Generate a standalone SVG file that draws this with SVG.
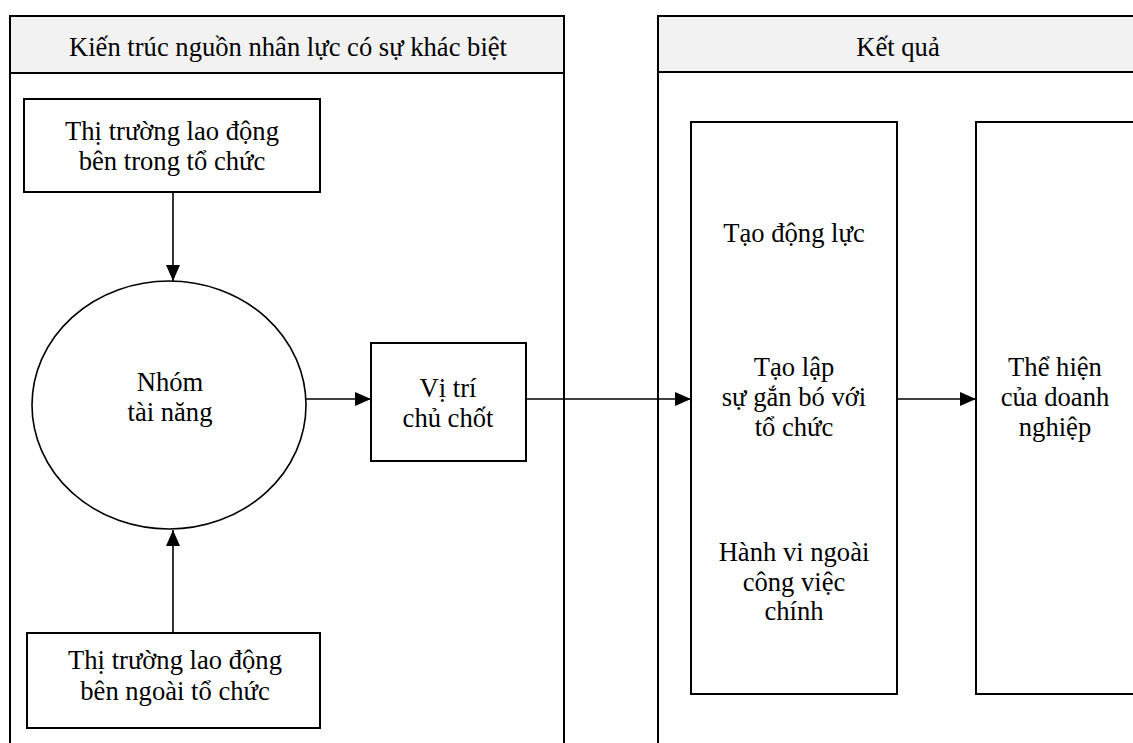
<svg xmlns="http://www.w3.org/2000/svg" width="1133" height="743" viewBox="0 0 1133 743">
<defs>
<style>
.panel{fill:#ffffff;stroke:#000;stroke-width:2}
.hdr{fill:#f2f2f2;stroke:#000;stroke-width:2}
.box{fill:#ffffff;stroke:#000;stroke-width:2}
.ell{fill:#ffffff;stroke:#000;stroke-width:1.6}
.t{font-family:"Liberation Serif","Times New Roman",serif;font-size:26.6px;fill:#000;text-anchor:middle}
.c{fill:none;stroke:#000;stroke-width:1.6}
</style>
<marker id="ah" markerUnits="userSpaceOnUse" markerWidth="16" markerHeight="14" refX="16" refY="7" orient="auto">
<path d="M0,0 L16,7 L0,14 Z" fill="#000"/>
</marker>
</defs>
<rect width="1133" height="743" fill="#ffffff"/>
<g id="panel-left">
<rect class="panel" x="10" y="16" width="554" height="740"/>
<rect class="hdr" x="10" y="16" width="554" height="57"/>
<text class="t" x="288" y="56">Kiến trúc nguồn nhân lực có sự khác biệt</text>
</g>
<g id="panel-right">
<rect class="panel" x="658" y="16" width="490" height="740"/>
<rect class="hdr" x="658" y="16" width="490" height="56"/>
<text class="t" x="898" y="56">Kết quả</text>
</g>
<g id="node-internal">
<rect class="box" x="24" y="99" width="296" height="93"/>
<text class="t" x="172" y="140">Thị trường lao động</text>
<text class="t" x="172" y="170">bên trong tổ chức</text>
</g>
<g id="node-talent">
<ellipse class="ell" cx="169" cy="405" rx="137" ry="124"/>
<text class="t" x="170" y="391">Nhóm</text>
<text class="t" x="170" y="421">tài năng</text>
</g>
<g id="node-external">
<rect class="box" x="27" y="633" width="293" height="95"/>
<text class="t" x="175" y="669">Thị trường lao động</text>
<text class="t" x="175" y="700">bên ngoài tổ chức</text>
</g>
<g id="node-position">
<rect class="box" x="371" y="343" width="155" height="118"/>
<text class="t" x="448" y="397">Vị trí</text>
<text class="t" x="448" y="427">chủ chốt</text>
</g>
<g id="node-outcomes">
<rect class="box" x="691" y="122" width="206" height="572"/>
<text class="t" x="794" y="242">Tạo động lực</text>
<text class="t" x="794" y="376">Tạo lập</text>
<text class="t" x="794" y="406">sự gắn bó với</text>
<text class="t" x="794" y="436">tổ chức</text>
<text class="t" x="794" y="561">Hành vi ngoài</text>
<text class="t" x="794" y="591">công việc</text>
<text class="t" x="794" y="620">chính</text>
</g>
<g id="node-performance">
<rect class="box" x="976" y="122" width="170" height="572"/>
<text class="t" x="1055" y="376">Thể hiện</text>
<text class="t" x="1055" y="406">của doanh</text>
<text class="t" x="1055" y="436">nghiệp</text>
</g>
<g id="connectors">
<path class="c" d="M173,192 L173,281" marker-end="url(#ah)"/>
<path class="c" d="M173,633 L173,530" marker-end="url(#ah)"/>
<path class="c" d="M306,399 L371,399" marker-end="url(#ah)"/>
<path class="c" d="M526,399 L691,399" marker-end="url(#ah)"/>
<path class="c" d="M897,399 L976,399" marker-end="url(#ah)"/>
</g>
</svg>
